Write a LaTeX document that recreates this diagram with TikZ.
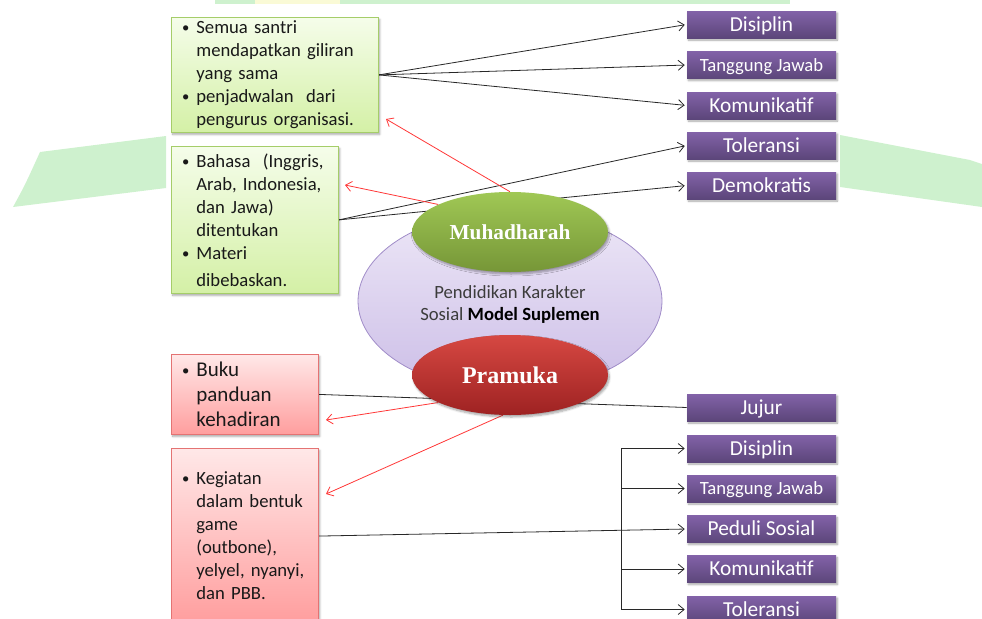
\documentclass[tikz,border=0pt]{standalone}
\usepackage{fontspec}
\setmainfont{Carlito}
\newfontfamily\titlefont{Liberation Serif}
\usetikzlibrary{arrows.meta,shadows.blur,shapes.geometric}
\pgfdeclarelayer{linelayer}
\pgfsetlayers{linelayer,main}

\definecolor{wmgreen}{RGB}{206,241,206}
\definecolor{wmyellow}{RGB}{250,250,214}
\definecolor{gtop}{RGB}{245,253,234}
\definecolor{gbot}{RGB}{212,240,166}
\definecolor{gline}{RGB}{165,205,105}
\definecolor{rtop}{RGB}{255,232,232}
\definecolor{rbot}{RGB}{255,158,158}
\definecolor{rline}{RGB}{228,115,115}
\definecolor{ptop}{RGB}{130,98,168}
\definecolor{pbot}{RGB}{92,70,122}
\definecolor{etop}{RGB}{237,231,247}
\definecolor{ebot}{RGB}{204,190,231}
\definecolor{eline}{RGB}{160,140,200}
\definecolor{mtop}{RGB}{160,200,85}
\definecolor{mbot}{RGB}{118,150,55}
\definecolor{ktop}{RGB}{214,72,66}
\definecolor{kbot}{RGB}{158,34,34}
\definecolor{txt}{RGB}{25,25,25}
\definecolor{ctxt}{RGB}{60,60,60}
\definecolor{blk}{RGB}{40,40,40}
\definecolor{redarr}{RGB}{255,55,55}

\newcommand{\bl}[1]{\makebox[11.25pt][l]{\hspace*{0.5pt}{\fontsize{11}{11}\selectfont\raisebox{0.6pt}{\textbullet}}}\mbox{#1}}
\newcommand{\cl}[1]{\hspace*{11.25pt}\mbox{#1}}

\tikzset{
  x=0.75pt, y=-0.75pt,
  shadowed/.style={blur shadow={shadow xshift=1pt,shadow yshift=-1.5pt,shadow blur steps=6,shadow opacity=35,shadow blur radius=1.5pt}},
  txtbox/.style={anchor=north west, inner xsep=7.5pt, inner ysep=0pt, align=left, text=txt, line width=0.6pt, shadowed},
  greenbox/.style={txtbox, draw=gline, top color=gtop, bottom color=gbot, font=\fontsize{14}{17.25}\selectfont},
  redbox/.style={txtbox, draw=rline, top color=rtop, bottom color=rbot},
  purplebox/.style={top color=ptop, bottom color=pbot, draw=none, minimum width=111.75pt, minimum height=20.25pt, inner sep=0pt, text=white, font=\fontsize{16}{16}\selectfont, text height=12pt, text depth=1.6pt, shadowed},
  smallpurple/.style={purplebox, font=\fontsize{14}{14}\selectfont, text height=11pt, text depth=2pt},
  bigell/.style={ellipse, draw=eline, line width=0.6pt, top color=etop, bottom color=ebot, minimum width=228pt, minimum height=135pt, inner sep=0pt},
  smallell/.style={ellipse, draw=none, minimum width=147pt, minimum height=60pt, inner sep=0pt, text=white, shadowed},
  link/.style={draw=blk, line width=0.6pt},
  arr/.style={link, -{Straight Barb[length=4.5pt,width=7.5pt]}, shorten >=1.5pt},
  redlink/.style={draw=redarr, line width=0.6pt, -{Straight Barb[length=4.5pt,width=7.5pt]}}
}

\begin{document}
\begin{tikzpicture}
\useasboundingbox (0,0) rectangle (982,618);

% watermark
\fill[wmgreen] (215,0) rectangle (255,4);
\fill[wmyellow] (255,0) rectangle (340,4);
\fill[wmgreen] (340,0) rectangle (790,4);
\fill[wmgreen] (40,152) -- (166,136) -- (166,188) -- (13,207) .. controls (25,185) .. (40,152) -- cycle;
\fill[wmgreen] (840,135) -- (970,160) -- (982,164) -- (982,207) -- (840,187) -- cycle;

% text boxes
\node[greenbox, minimum width=155.25pt, minimum height=86.25pt, text width=140.25pt] (b1) at (171,17)
  {\bl{Semua santri}\\ \cl{mendapatkan giliran}\\ \cl{yang sama}\\ \bl{penjadwalan\ \ dari}\\ \cl{pengurus organisasi.}};
\node[greenbox, minimum width=125.25pt, minimum height=110.25pt, text width=110.25pt] (b2) at (171,146)
  {\bl{Bahasa\ \ (Inggris,}\\ \cl{Arab, Indonesia,}\\ \cl{dan Jawa)}\\ \cl{ditentukan}\\ \bl{Materi}\\[3pt] \cl{dibebaskan.}};
\node[redbox, minimum width=110.25pt, minimum height=60pt, text width=95.25pt, font=\fontsize{15.75}{18.75}\selectfont] (b3) at (171,354)
  {\bl{Buku}\\ \cl{panduan}\\ \cl{kehadiran}};
\node[redbox, minimum width=110.25pt, minimum height=130.5pt, text width=95.25pt, font=\fontsize{14}{17.25}\selectfont] (b4) at (171,448)
  {\bl{Kegiatan}\\ \cl{dalam bentuk}\\ \cl{game}\\ \cl{(outbone),}\\ \cl{yelyel, nyanyi,}\\ \cl{dan PBB.}};

% value boxes (top)
\node[purplebox] (d1) at (761.5,24.5) {Disiplin};
\node[smallpurple] (d2) at (761.5,65) {Tanggung Jawab};
\node[purplebox] (d3) at (761.5,105.5) {Komunikatif};
\node[purplebox] (d4) at (761.5,145.5) {Toleransi};
\node[purplebox] (d5) at (761.5,185.5) {Demokratis};

% value boxes (bottom)
\node[purplebox] (p1) at (761.5,407.5) {Jujur};
\node[purplebox] (p2) at (761.5,448.5) {Disiplin};
\node[smallpurple] (p3) at (761.5,488.5) {Tanggung Jawab};
\node[purplebox] (p4) at (761.5,529) {Peduli Sosial};
\node[purplebox] (p5) at (761.5,569) {Komunikatif};
\node[purplebox] (p6) at (761.5,609.5) {Toleransi};

% ellipses
\node[bigell] (core) at (510,301) {};
\node[text=ctxt, align=center, font=\fontsize{14}{16.5}\selectfont] (ctext) at (510,304)
  {Pendidikan Karakter\\ Sosial \textcolor{black}{\textbf{Model Suplemen}}};
\node[smallell, top color=mtop, bottom color=mbot, font=\titlefont\bfseries\fontsize{16}{16}\selectfont] (muh) at (510,232) {Muhadharah};
\node[smallell, top color=ktop, bottom color=kbot, font=\titlefont\bfseries\fontsize{18}{18}\selectfont] (pra) at (510,375) {Pramuka};

% free arrow ends
\coordinate (t1) at (386,119);
\coordinate (t2) at (345,185);
\coordinate (t3) at (326,420);
\coordinate (t4) at (326,494);
\coordinate (bus) at (621,0);

\begin{pgfonlayer}{linelayer}
  \draw[arr] (b1.east) -- (d1.west);
  \draw[arr] (b1.east) -- (d2.west);
  \draw[arr] (b1.east) -- (d3.west);
  \draw[arr] (b2.east) -- (d4.west);
  \draw[arr] (b2.east) -- (d5.west);
  \draw[link] (b3.east) -- (p1.west);
  \draw[arr] ([yshift=-0.5pt]b4.east) -- (p4.west);
  \draw[link] (bus |- p2.west) -- (bus |- p6.west);
  \draw[arr] (bus |- p2.west) -- (p2.west);
  \draw[arr] (bus |- p3.west) -- (p3.west);
  \draw[arr] (bus |- p5.west) -- (p5.west);
  \draw[arr] (bus |- p6.west) -- (p6.west);
  \draw[redlink] (muh.north) -- (t1);
  \draw[redlink] (muh.159) -- (t2);
  \draw[redlink] (pra.201) -- (t3);
  \draw[redlink] (pra.260) -- (t4);
\end{pgfonlayer}
\end{tikzpicture}
\end{document}
